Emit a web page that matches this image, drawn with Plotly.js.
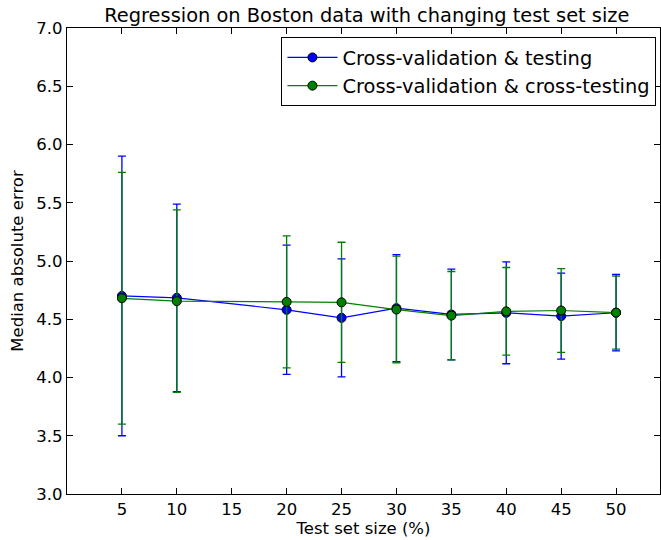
<!DOCTYPE html>
<html><head><meta charset="utf-8">
<script src="https://cdn.plot.ly/plotly-3.0.1.min.js"></script>
<style>html,body{margin:0;padding:0;background:#fff}</style>
</head><body>
<div id="chart" style="width:661px;height:540px"></div>
<script>
var testSizes = [5, 10, 20, 25, 30, 35, 40, 45, 50];
var cvTestMean = [4.70, 4.684, 4.581, 4.512, 4.595, 4.541, 4.555, 4.527, 4.556];
var cvTestErr  = [1.20, 0.805, 0.555, 0.506, 0.460, 0.389, 0.437, 0.369, 0.328];
var cvCrossMean = [4.68, 4.655, 4.649, 4.645, 4.583, 4.531, 4.568, 4.575, 4.557];
var cvCrossErr  = [1.08, 0.783, 0.566, 0.516, 0.458, 0.379, 0.376, 0.360, 0.313];
var xTicks = [5, 10, 15, 20, 25, 30, 35, 40, 45, 50];
var yTicks = [3.0, 3.5, 4.0, 4.5, 5.0, 5.5, 6.0, 6.5, 7.0];

var font = {family: 'DejaVu Sans, sans-serif', color: '#000'};
function trace(name, y, err, color) {
  return {
    x: testSizes, y: y, name: name, type: 'scatter', mode: 'lines+markers',
    line: {color: color, width: 1.2},
    marker: {color: color, size: 9, line: {color: '#000', width: 1}},
    error_y: {type: 'data', array: err, visible: true, color: color, thickness: 1.3, width: 4}
  };
}
var data = [
  trace('Cross-validation &amp; testing', cvTestMean, cvTestErr, '#0000ff'),
  trace('Cross-validation &amp; cross-testing', cvCrossMean, cvCrossErr, '#008000')
];
var layout = {
  width: 661, height: 540,
  margin: {l: 67, r: 1, t: 28, b: 46},
  paper_bgcolor: '#fff', plot_bgcolor: '#fff',
  font: Object.assign({size: 16.5}, font),
  title: {text: 'Regression on Boston data with changing test set size', font: Object.assign({size: 19.4}, font), x: 0.555, xanchor: 'center', y: 0.972, yanchor: 'middle'},
  xaxis: {
    range: [0, 54], tickvals: xTicks, ticktext: xTicks.map(String),
    ticks: 'inside', ticklen: 6, tickcolor: '#000', showline: true, linecolor: '#000', linewidth: 1.3,
    mirror: 'ticks', showgrid: false, zeroline: false,
    tickfont: Object.assign({size: 16.5}, font),
    title: {text: 'Test set size (%)', font: Object.assign({size: 16.5}, font), standoff: 4}
  },
  yaxis: {
    range: [3.0, 7.0], tickvals: yTicks, ticktext: yTicks.map(function(v){return v.toFixed(1);}),
    ticks: 'inside', ticklen: 6, tickcolor: '#000', showline: true, linecolor: '#000', linewidth: 1.3,
    mirror: 'ticks', showgrid: false, zeroline: false,
    tickfont: Object.assign({size: 16.5}, font),
    title: {text: 'Median absolute error', font: Object.assign({size: 16.5}, font), standoff: 8}
  },
  legend: {
    x: 0.994, y: 0.98, xanchor: 'right', yanchor: 'top',
    bgcolor: '#fff', bordercolor: '#000', borderwidth: 1,
    font: Object.assign({size: 19.4}, font), tracegroupgap: 0, itemwidth: 50
  },
  showlegend: true
};
Plotly.newPlot('chart', data, layout, {displayModeBar: false, staticPlot: true});
</script>
</body></html>
